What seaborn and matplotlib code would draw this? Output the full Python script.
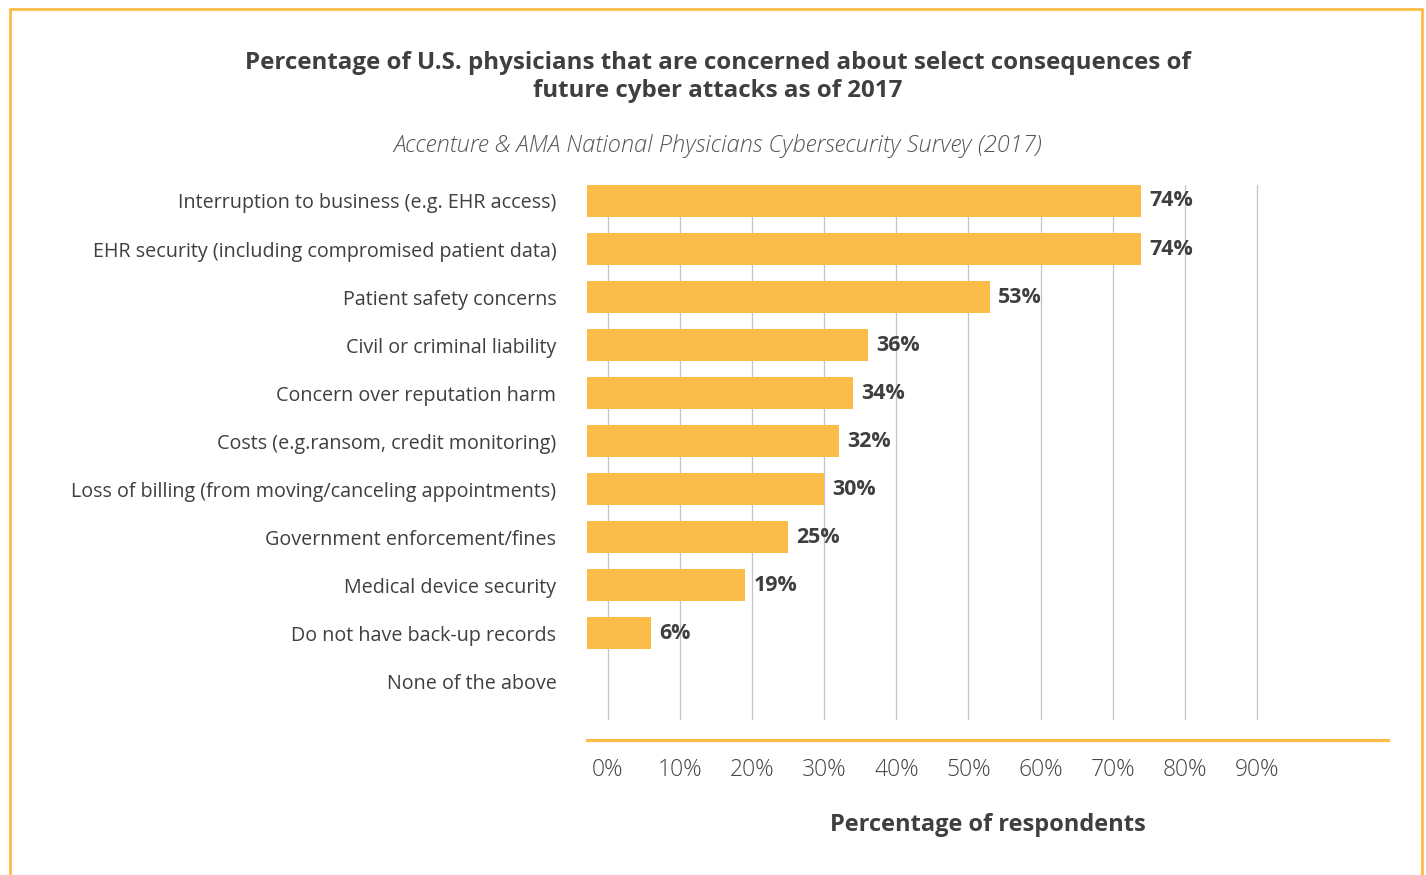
import matplotlib
matplotlib.use("Agg")
import matplotlib.pyplot as plt
import seaborn as sns
from matplotlib.lines import Line2D

categories = [
    "Interruption to business (e.g. EHR access)",
    "EHR security (including compromised patient data)",
    "Patient safety concerns",
    "Civil or criminal liability",
    "Concern over reputation harm",
    "Costs (e.g.ransom, credit monitoring)",
    "Loss of billing (from moving/canceling appointments)",
    "Government enforcement/fines",
    "Medical device security",
    "Do not have back-up records",
    "None of the above",
]
values = [74, 74, 53, 36, 34, 32, 30, 25, 19, 6, 0]
tick_values = [0, 10, 20, 30, 40, 50, 60, 70, 80, 90]
tick_labels = [f"{t}%" for t in tick_values]

title = "Percentage of U.S. physicians that are concerned about select consequences of\nfuture cyber attacks as of 2017"
subtitle = "Accenture & AMA National Physicians Cybersecurity Survey (2017)"
xlabel = "Percentage of respondents"

BAR = "#FCBD48"
TXT = "#3f3f3f"
FONT = ["Open Sans", "DejaVu Sans"]

sns.set_theme(style="white")
plt.rcParams["font.family"] = FONT

W, H = 1426, 875
fig = plt.figure(figsize=(W / 100, H / 100), dpi=100)
fig.patch.set_facecolor("white")

ax = fig.add_axes([587 / W, 1 - 720 / H, (1388 - 587) / W, (720 - 185) / H])
sns.barplot(x=values, y=categories, color=BAR, width=0.67, saturation=1,
            orient="h", ax=ax, zorder=2, linewidth=0, edgecolor="none")

ax.set_xlim(-2.91, 108.2)
ax.set_ylim(10.81, -0.333)

# bars in the source start at the left edge of the plotting area
x_left = ax.get_xlim()[0]
for p, v in zip(ax.containers[0], values):
    if v:
        p.set_x(x_left)
        p.set_width(v - x_left)
    else:
        p.set_visible(False)

ax.set_xticks(tick_values)
ax.set_xticklabels(tick_labels)
ax.grid(axis="x", color="#c4c4c4", linewidth=0.9, zorder=0)
ax.grid(axis="y", visible=False)
ax.set_axisbelow(True)

for s in ["top", "right", "left"]:
    ax.spines[s].set_visible(False)
ax.spines["bottom"].set_position(("outward", 14.4))
ax.spines["bottom"].set_color(BAR)
ax.spines["bottom"].set_linewidth(2.3)

ax.tick_params(axis="x", length=0, pad=13, labelsize=16.5, labelcolor="#454545")
ax.tick_params(axis="y", length=0, pad=22, labelsize=14.2, labelcolor=TXT)
for lab in ax.get_xticklabels():
    lab.set_fontweight("light")

ax.set_xlabel(xlabel, fontsize=17, fontweight="bold", color=TXT, labelpad=22)
ax.set_ylabel("")

ax.bar_label(ax.containers[0], labels=[f"{v}%" if v else "" for v in values],
             padding=6, fontsize=15.4, fontweight="bold", color=TXT)

fig.text(718 / W, 1 - 77 / H, title, ha="center", va="center", fontsize=17.4,
         fontweight="bold", color=TXT, linespacing=1.2)
fig.text(718 / W, 1 - 146 / H, subtitle, ha="center", va="center", fontsize=17,
         style="italic", fontweight="light", color="#555555")

# frame around the figure (open at the bottom)
bx0, bx1, by = 9.5 / W, 1421.5 / W, 1 - 9 / H
for xs, ys in [([bx0, bx0], [0, by]), ([bx0, bx1], [by, by]), ([bx1, bx1], [by, 0])]:
    fig.add_artist(Line2D(xs, ys, transform=fig.transFigure, color="#FDBB45",
                          linewidth=2.0, clip_on=False))

fig.savefig("out.png", dpi=100)
